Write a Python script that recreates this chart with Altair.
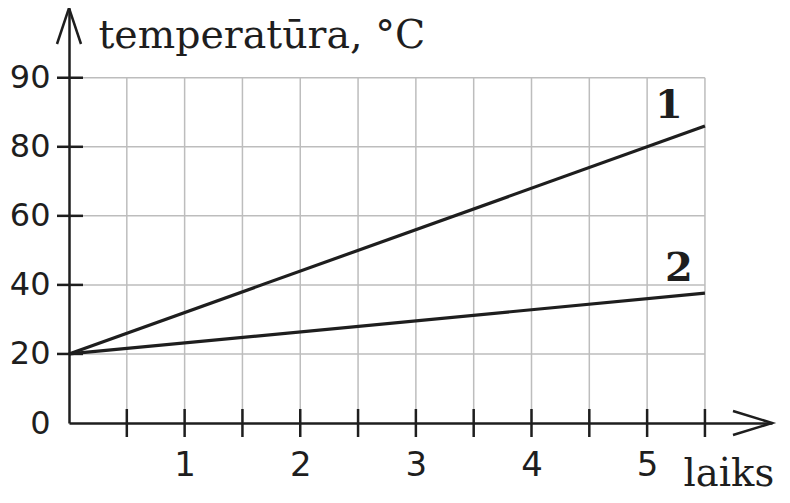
import altair as alt
import pandas as pd

# ---- data ----
series_names = ["1", "2"]
time_points = [0, 5.5]
series1_temp = [20, 86]
series2_temp = [20, 37.6]

x_label_values = [1, 2, 3, 4, 5]
x_minor_values = [0.5, 1, 1.5, 2, 2.5, 3, 3.5, 4, 4.5, 5, 5.5]
y_tick_values = [0, 20, 40, 60, 80, 100]
y_tick_labels = ["0", "20", "40", "60", "80", "90"]
y_grid_values = [20, 40, 60, 80, 100]

x_axis_end = 6.08   # arrow tip of time axis
y_axis_end = 120.2  # arrow tip of temperature axis
grid_x_end = 5.5
grid_y_end = 100

INK = "#1e1e1e"
GRID = "#bdbdbd"

# ---- tables ----
lines_df = pd.DataFrame({
    "t": time_points * 2,
    "temp": series1_temp + series2_temp,
    "series": [series_names[0]] * 2 + [series_names[1]] * 2,
})
vgrid_df = pd.DataFrame({"t": x_minor_values})
hgrid_df = pd.DataFrame({"temp": y_grid_values})
yticks_df = pd.DataFrame({"temp": y_grid_values})
label1_df = pd.DataFrame({"t": [time_points[-1]], "temp": [series1_temp[-1]], "name": [series_names[0]]})
label2_df = pd.DataFrame({"t": [time_points[-1]], "temp": [series2_temp[-1]], "name": [series_names[1]]})
yarrow_df = pd.DataFrame({"t": [0], "temp": [y_axis_end]})
xarrow_df = pd.DataFrame({"t": [x_axis_end], "temp": [0]})

# label expression built from the tick lists
expr = "datum.label"
for v, lab in zip(y_tick_values, y_tick_labels):
    expr = f"datum.value == {v} ? '{lab}' : ({expr})"

xs = alt.Scale(domain=[0, x_axis_end], nice=False, zero=False)
ys = alt.Scale(domain=[0, y_axis_end], nice=False, zero=False)

X_AXIS = alt.Axis(
    values=x_label_values, title="laiks", ticks=False, tickSize=0,
    labelPadding=25, labelFont="DejaVu Sans", labelFontSize=34, labelColor=INK,
    labelOverlap=False, labelFlush=False,
    domainColor=INK, domainWidth=2.5, grid=False,
    titleFont="DejaVu Serif", titleFontSize=38.5, titleFontWeight="normal",
    titleColor=INK, titleAngle=0, titleAlign="left", titleBaseline="alphabetic",
    titleX=614, titleY=62,
)
Y_AXIS = alt.Axis(
    values=y_tick_values, labelExpr=expr, title="temperatūra, °C",
    ticks=False, tickSize=0, labelPadding=19, labelFont="DejaVu Sans",
    labelFontSize=32, labelColor=INK, labelOverlap=False, labelFlush=False,
    domainColor=INK, domainWidth=2.5, grid=False,
    titleFont="DejaVu Serif", titleFontSize=39.5, titleFontWeight="normal",
    titleColor=INK, titleAngle=0, titleAlign="left", titleBaseline="alphabetic",
    titleX=29, titleY=39,
)


def X(field=None, datum=None):
    if field is not None:
        return alt.X(field, type="quantitative", scale=xs, axis=X_AXIS)
    return alt.XDatum(datum, type="quantitative", scale=xs, axis=X_AXIS)


def Y(field=None, datum=None):
    if field is not None:
        return alt.Y(field, type="quantitative", scale=ys, axis=Y_AXIS)
    return alt.YDatum(datum, type="quantitative", scale=ys, axis=Y_AXIS)


vgrid = alt.Chart(vgrid_df).mark_rule(color=GRID, strokeWidth=1.5).encode(
    x=X("t"), y=Y(datum=0), y2=alt.Y2Datum(grid_y_end)
)
hgrid = alt.Chart(hgrid_df).mark_rule(color=GRID, strokeWidth=1.5).encode(
    y=Y("temp"), x=X(datum=0), x2=alt.X2Datum(grid_x_end)
)
xticks = alt.Chart(vgrid_df).mark_rule(
    color=INK, strokeWidth=2.5, yOffset=-14, y2Offset=14
).encode(x=X("t"), y=Y(datum=0), y2=alt.Y2Datum(0))
yticks = alt.Chart(yticks_df).mark_rule(
    color=INK, strokeWidth=2.5, xOffset=-12, x2Offset=14
).encode(y=Y("temp"), x=X(datum=0), x2=alt.X2Datum(0))

lines = alt.Chart(lines_df).mark_line(color=INK, strokeWidth=3.2).encode(
    x=X("t"), y=Y("temp"), detail="series:N"
)

lab1 = alt.Chart(label1_df).mark_text(
    font="DejaVu Serif", fontSize=40, fontWeight="bold", color=INK,
    dx=-36, dy=-20, baseline="middle", align="center",
).encode(x=X("t"), y=Y("temp"), text="name:N")
lab2 = alt.Chart(label2_df).mark_text(
    font="DejaVu Serif", fontSize=40, fontWeight="bold", color=INK,
    dx=-26, dy=-24, baseline="middle", align="center",
).encode(x=X("t"), y=Y("temp"), text="name:N")

yarrow = alt.Chart(yarrow_df).mark_point(
    shape="M-1,3 L0,0 L1,3", filled=False, size=576, stroke=INK,
    strokeWidth=2.5, opacity=1,
).encode(x=X("t"), y=Y("temp"))
xarrow = alt.Chart(xarrow_df).mark_point(
    shape="M-3.25,-1 L0,0 L-3.25,1", filled=False, size=576, stroke=INK,
    strokeWidth=2.5, opacity=1,
).encode(x=X("t"), y=Y("temp"))

chart = alt.layer(
    vgrid, hgrid, lines, xticks, yticks, lab1, lab2, yarrow, xarrow
).properties(
    width=703, height=415,
    autosize=alt.AutoSizeParams(type="none"),
    padding={"left": 61, "top": 0, "right": 10, "bottom": 72},
    background="white",
).configure_view(stroke=None)

chart.save("out.html", embed_options={"renderer": "svg", "actions": False})
